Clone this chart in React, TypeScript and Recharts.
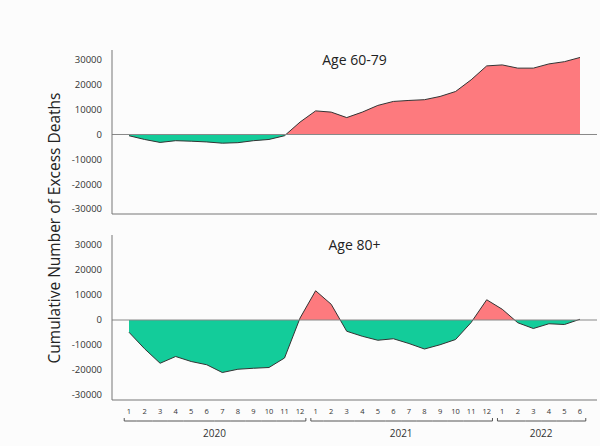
import React from "react";
import {
  AreaChart,
  Area,
  XAxis,
  YAxis,
  ReferenceLine,
} from "recharts";

// months shown on the x axis, grouped by year
const years = ["2020", "2021", "2022"];
const monthsPerYear = [12, 12, 6];

// cumulative excess deaths, Jan 2020 .. Jun 2022
const age6079 = [
  -500, -2000, -3200, -2500, -2700, -3000, -3500, -3300, -2500, -2000, -500, 5000,
  9500, 9000, 6800, 9000, 11700, 13300, 13700, 14000, 15300, 17300, 22000, 27600,
  28000, 26700, 26700, 28400, 29300, 31000,
];
const age80 = [
  -4900, -11500, -17300, -14600, -16600, -17900, -21000, -19700, -19300, -19000, -15200, 800,
  11700, 6300, -4500, -6500, -8100, -7500, -9400, -11600, -9900, -7800, -1000, 8100,
  4300, -1100, -3400, -1500, -1800, 300,
];

const yTicks = [-30000, -20000, -10000, 0, 10000, 20000, 30000];
const yDomain = [-32000, 34000];

const POS = "#fd7a7e";
const NEG = "#13cc9a";
const FONT = "'Open Sans', sans-serif";

const CHART_W = 600;
const Y_AXIS_W = 50;
const MARGIN_LEFT = 62;
const MARGIN_RIGHT = 3;
const X_PAD = 17;

const monthData = years.flatMap((year, yi) =>
  Array.from({ length: monthsPerYear[yi] }, (_, m) => ({ year, month: m + 1, yi }))
);
const N = monthData.length;
const STEP =
  (CHART_W - MARGIN_LEFT - Y_AXIS_W - MARGIN_RIGHT - 2 * X_PAD) / (N - 1);

const data = monthData.map((d, i) => ({
  key: `${d.year}-${d.month}`,
  ...d,
  a6079: age6079[i],
  a80: age80[i],
}));

function splitOffset(values: number[]) {
  const max = Math.max(...values, 0);
  const min = Math.min(...values, 0);
  return max / (max - min);
}

function MonthTick(props: any) {
  const { x, y, payload } = props;
  const d = monthData[payload.index];
  if (!d) return null;
  const count = monthsPerYear[d.yi];
  const first = d.month === 1;
  const last = d.month === count;
  const left = first ? x - STEP / 2 + 3 : x - STEP / 2;
  const right = last ? x + STEP / 2 - 2 : x + STEP / 2;
  const by = y + 13;
  const mid = Math.floor((count - 1) / 2);
  return (
    <g>
      <text
        x={x}
        y={y + 6}
        textAnchor="middle"
        fontSize={7.5}
        fill="#333"
        fontFamily={FONT}
      >
        {d.month}
      </text>
      <line x1={left} y1={by} x2={right} y2={by} stroke="#555" strokeWidth={1} />
      {first && <line x1={left} y1={by} x2={left} y2={by - 3} stroke="#555" />}
      {last && <line x1={right} y1={by} x2={right} y2={by - 3} stroke="#555" />}
      {d.month - 1 === mid && (
        <text
          x={x + ((count - 1) / 2 - mid) * STEP}
          y={by + 16}
          textAnchor="middle"
          fontSize={10}
          fill="#333"
          fontFamily={FONT}
        >
          {d.year}
        </text>
      )}
    </g>
  );
}

function Panel({
  dataKey,
  values,
  title,
  height,
  showMonths,
  id,
}: {
  dataKey: string;
  values: number[];
  title: string;
  height: number;
  showMonths: boolean;
  id: string;
}) {
  const off = splitOffset(values);
  return (
    <AreaChart
      width={CHART_W}
      height={height}
      data={data}
      margin={{ top: 50, right: MARGIN_RIGHT, left: MARGIN_LEFT, bottom: showMonths ? 0 : 10 }}
    >
      <defs>
        <linearGradient id={id} x1="0" y1="0" x2="0" y2="1">
          <stop offset={off} stopColor={POS} stopOpacity={1} />
          <stop offset={off} stopColor={NEG} stopOpacity={1} />
        </linearGradient>
      </defs>
      <XAxis
        dataKey="key"
        interval={0}
        padding={{ left: X_PAD, right: X_PAD }}
        axisLine={{ stroke: "#777" }}
        tickLine={false}
        height={showMonths ? 46 : 1}
        tick={showMonths ? <MonthTick /> : false}
      />
      <YAxis
        domain={yDomain}
        ticks={yTicks}
        width={Y_AXIS_W}
        interval={0}
        axisLine={{ stroke: "#777" }}
        tickLine={false}
        tickMargin={4}
        tick={{ fontSize: 9.5, fill: "#333", fontFamily: FONT }}
      />
      <ReferenceLine y={0} stroke="#888" strokeWidth={1} />
      <Area
        type="linear"
        dataKey={dataKey}
        stroke="#333"
        strokeWidth={1}
        fill={`url(#${id})`}
        fillOpacity={1}
        dot={false}
        activeDot={false}
        isAnimationActive={false}
      />
      <text
        x={MARGIN_LEFT + Y_AXIS_W + (CHART_W - MARGIN_LEFT - Y_AXIS_W - MARGIN_RIGHT) / 2}
        y={65}
        textAnchor="middle"
        fontSize={14}
        fill="#222"
        fontFamily={FONT}
      >
        {title}
      </text>
    </AreaChart>
  );
}

export default function App() {
  return (
    <div
      style={{
        position: "absolute",
        left: 0,
        top: 0,
        width: 600,
        height: 446,
        background: "#fcfcfc",
        fontFamily: FONT,
      }}
    >
      <div style={{ position: "absolute", left: 0, top: 0 }}>
        <Panel dataKey="a6079" values={age6079} title="Age 60-79" height={225} showMonths={false} id="g6079" />
      </div>
      <div style={{ position: "absolute", left: 0, top: 185 }}>
        <Panel dataKey="a80" values={age80} title="Age 80+" height={261} showMonths id="g80" />
      </div>
      <svg
        width={600}
        height={446}
        style={{ position: "absolute", left: 0, top: 0, pointerEvents: "none" }}
      >
        <text
          transform="translate(60,228) rotate(-90)"
          textAnchor="middle"
          fontSize={15.5}
          fill="#222"
          fontFamily={FONT}
        >
          Cumulative Number of Excess Deaths
        </text>
      </svg>
    </div>
  );
}
